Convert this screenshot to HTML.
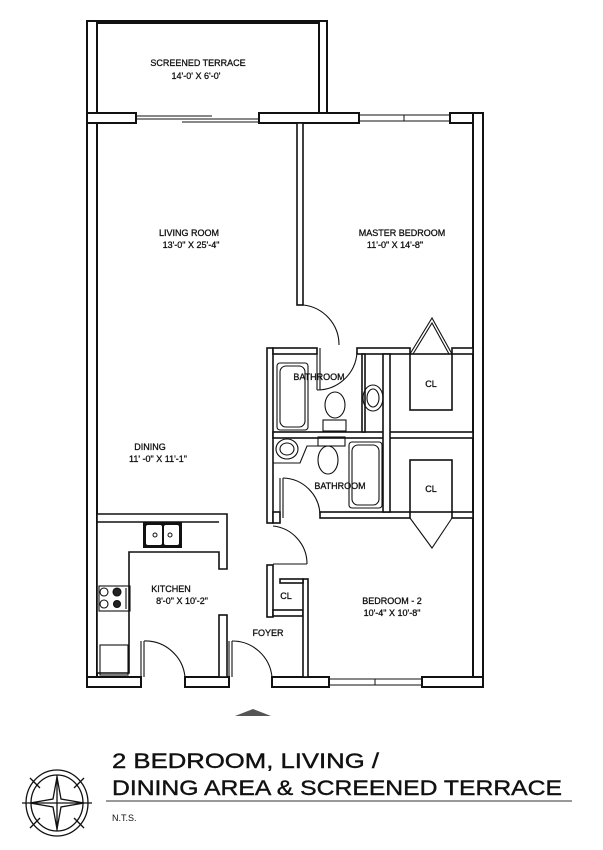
<!DOCTYPE html>
<html><head><meta charset="utf-8"><style>
html,body{margin:0;padding:0;background:#fff;}
svg{display:block;}
text{font-family:"Liberation Sans",sans-serif;fill:#111;}
</style></head><body>
<svg width="603" height="850" viewBox="0 0 603 850" xmlns="http://www.w3.org/2000/svg">
<g fill="#fff" stroke="#111" stroke-width="2">
<rect x="87" y="21" width="10" height="102"/>
<rect x="319" y="21" width="8" height="102"/>
<line x1="87" y1="21" x2="327" y2="21"/><line x1="97" y1="23" x2="319" y2="23"/>
<rect x="87" y="113" width="49" height="10"/>
<rect x="259" y="113" width="100" height="10"/>
<rect x="450" y="113" width="33" height="10"/>
<rect x="87" y="123" width="10" height="564"/>
<rect x="473" y="113" width="10" height="574"/>
<rect x="87" y="677" width="54" height="10"/>
<rect x="185" y="677" width="44" height="10"/>
<rect x="272" y="677" width="57" height="10"/>
<rect x="422" y="677" width="61" height="10"/>
</g>
<g fill="none" stroke="#111" stroke-width="1">
<line x1="136" y1="116" x2="212" y2="116"/><line x1="136" y1="119" x2="212" y2="119"/>
<line x1="182" y1="119" x2="259" y2="119"/><line x1="182" y1="122" x2="259" y2="122"/>
<rect x="359" y="115" width="91" height="6"/><line x1="404" y1="115" x2="404" y2="121"/>
<rect x="329" y="679" width="93" height="6"/><line x1="375" y1="679" x2="375" y2="685"/>
</g>
<g fill="#fff" stroke="#111" stroke-width="1.6">
<rect x="297" y="123" width="6" height="182"/>
<rect x="267" y="348" width="6" height="175"/>
<rect x="273" y="348" width="44" height="6"/>
<rect x="357" y="348" width="53" height="6"/>
<rect x="452" y="348" width="21" height="6"/>
<rect x="273" y="432" width="200" height="6"/>
<rect x="320" y="512" width="90" height="6"/>
<rect x="452" y="512" width="21" height="6"/>
<rect x="383" y="354" width="7" height="158"/>
<rect x="362" y="354" width="3" height="78"/>
<rect x="273" y="512" width="7" height="11"/>
<rect x="267" y="565" width="6" height="52"/>
<rect x="273" y="610" width="30" height="6"/>
<rect x="303" y="579" width="5" height="98"/>
<rect x="280" y="579" width="23" height="4"/>
<rect x="410" y="354" width="42" height="56"/>
<rect x="410" y="460" width="42" height="52"/>
<path d="M97 514 H227 V569 H219 V552 H129 V673 H97 Z"/>
<rect x="219" y="615" width="8" height="62"/>
<line x1="97" y1="522" x2="219" y2="522"/>
</g>
<g fill="none" stroke="#111" stroke-width="1.1">
<path d="M410 354 L432 318 L452 354"/><path d="M413 354 L432 323 L449 354"/>
<path d="M410 518 L432 548 L452 518"/>
<path d="M303 305 A40 40 0 0 1 339 345"/>
<line x1="317" y1="348" x2="317" y2="390"/><line x1="320" y1="348" x2="320" y2="390"/>
<path d="M317 390 A40 40 0 0 0 357 352"/>
<line x1="280" y1="478" x2="280" y2="518"/><line x1="283" y1="478" x2="283" y2="518"/>
<path d="M283 478 A38 38 0 0 1 320 515"/>
<path d="M273 526 A38 38 0 0 1 307 564"/>
<line x1="273" y1="564" x2="307" y2="564"/>
<line x1="141" y1="641" x2="141" y2="677"/><line x1="144" y1="641" x2="144" y2="677"/>
<path d="M144 641 A40 40 0 0 1 185 677"/>
<line x1="229" y1="641" x2="229" y2="677"/><line x1="232" y1="641" x2="232" y2="677"/>
<path d="M232 641 A40 40 0 0 1 272 677"/>
<rect x="277" y="363" width="31" height="67" rx="3"/><rect x="280" y="366" width="25" height="61" rx="6"/>
<rect x="349" y="442" width="33" height="66" rx="3"/><rect x="352" y="445" width="27" height="60" rx="6"/>
<ellipse cx="335" cy="405" rx="10" ry="13"/><rect x="323" y="420" width="23" height="11"/>
<rect x="318" y="437" width="27" height="9"/><ellipse cx="328" cy="460" rx="10" ry="14"/>
<ellipse cx="373" cy="398" rx="10" ry="13"/><ellipse cx="373" cy="398" rx="6" ry="9"/>
<path d="M273 463 H300 L307 446 H320"/>
<ellipse cx="287" cy="449" rx="11" ry="10"/><ellipse cx="287" cy="449" rx="7" ry="6"/>
<rect x="99" y="586" width="31" height="25"/>
<circle cx="104" cy="592" r="4"/><circle cx="104" cy="604" r="4"/>
<circle cx="117" cy="592" r="4" fill="#222"/><circle cx="117" cy="604" r="3.5" fill="#222"/>
<line x1="126" y1="588" x2="126" y2="609"/>
<rect x="100" y="645" width="28" height="30"/>
</g>
<rect x="143" y="522" width="39" height="26" fill="#111"/>
<rect x="146" y="525" width="16" height="20" fill="#fff" rx="2"/><rect x="164" y="525" width="15" height="20" fill="#fff" rx="2"/>
<circle cx="155" cy="535" r="2" fill="none" stroke="#111"/><circle cx="170" cy="535" r="2" fill="none" stroke="#111"/>
<g font-size="9" text-anchor="middle" stroke="#111" stroke-width="0.3">
<text x="198" y="66">SCREENED TERRACE</text><text x="196" y="79">14'-0' X 6'-0'</text>
<text x="189" y="236">LIVING ROOM</text><text x="191" y="248">13'-0" X 25'-4"</text>
<text x="402" y="236">MASTER BEDROOM</text><text x="395" y="248">11'-0" X 14'-8"</text>
<text x="150" y="450">DINING</text><text x="158" y="462">11' -0" X 11'-1"</text>
<text x="319" y="380">BATHROOM</text><text x="340" y="489">BATHROOM</text>
<text x="431" y="387">CL</text><text x="431" y="492">CL</text><text x="286" y="599">CL</text>
<text x="171" y="592">KITCHEN</text><text x="182" y="604">8'-0" X 10'-2"</text>
<text x="268" y="636">FOYER</text>
<text x="392" y="604">BEDROOM - 2</text><text x="392" y="616">10'-4" X 10'-8"</text>
</g>
<path d="M235 716 L253 709 L271 716 Z" fill="#555"/>
<g font-size="21" stroke="#111" stroke-width="0.4">
<text x="112" y="768" textLength="267" lengthAdjust="spacingAndGlyphs">2 BEDROOM, LIVING /</text>
<text x="112" y="795" textLength="450" lengthAdjust="spacingAndGlyphs">DINING AREA &amp; SCREENED TERRACE</text>
</g>
<line x1="106" y1="801" x2="572" y2="801" stroke="#333" stroke-width="1"/>
<text x="112" y="821" font-size="9">N.T.S.</text>
<g fill="none" stroke="#111" stroke-width="1.3">
<ellipse cx="57" cy="803" rx="31" ry="33"/>
<ellipse cx="57" cy="803" rx="26" ry="28"/>
<line x1="57" y1="775" x2="57" y2="831"/><line x1="22" y1="803" x2="92" y2="803"/>
<line x1="30" y1="778" x2="40" y2="788"/><line x1="84" y1="778" x2="74" y2="788"/>
<line x1="30" y1="828" x2="40" y2="818"/><line x1="84" y1="828" x2="74" y2="818"/>
<path d="M57 777 L61 799 L84 803 L61 807 L57 829 L53 807 L30 803 L53 799 Z"/>
</g>
</svg>
</body></html>
